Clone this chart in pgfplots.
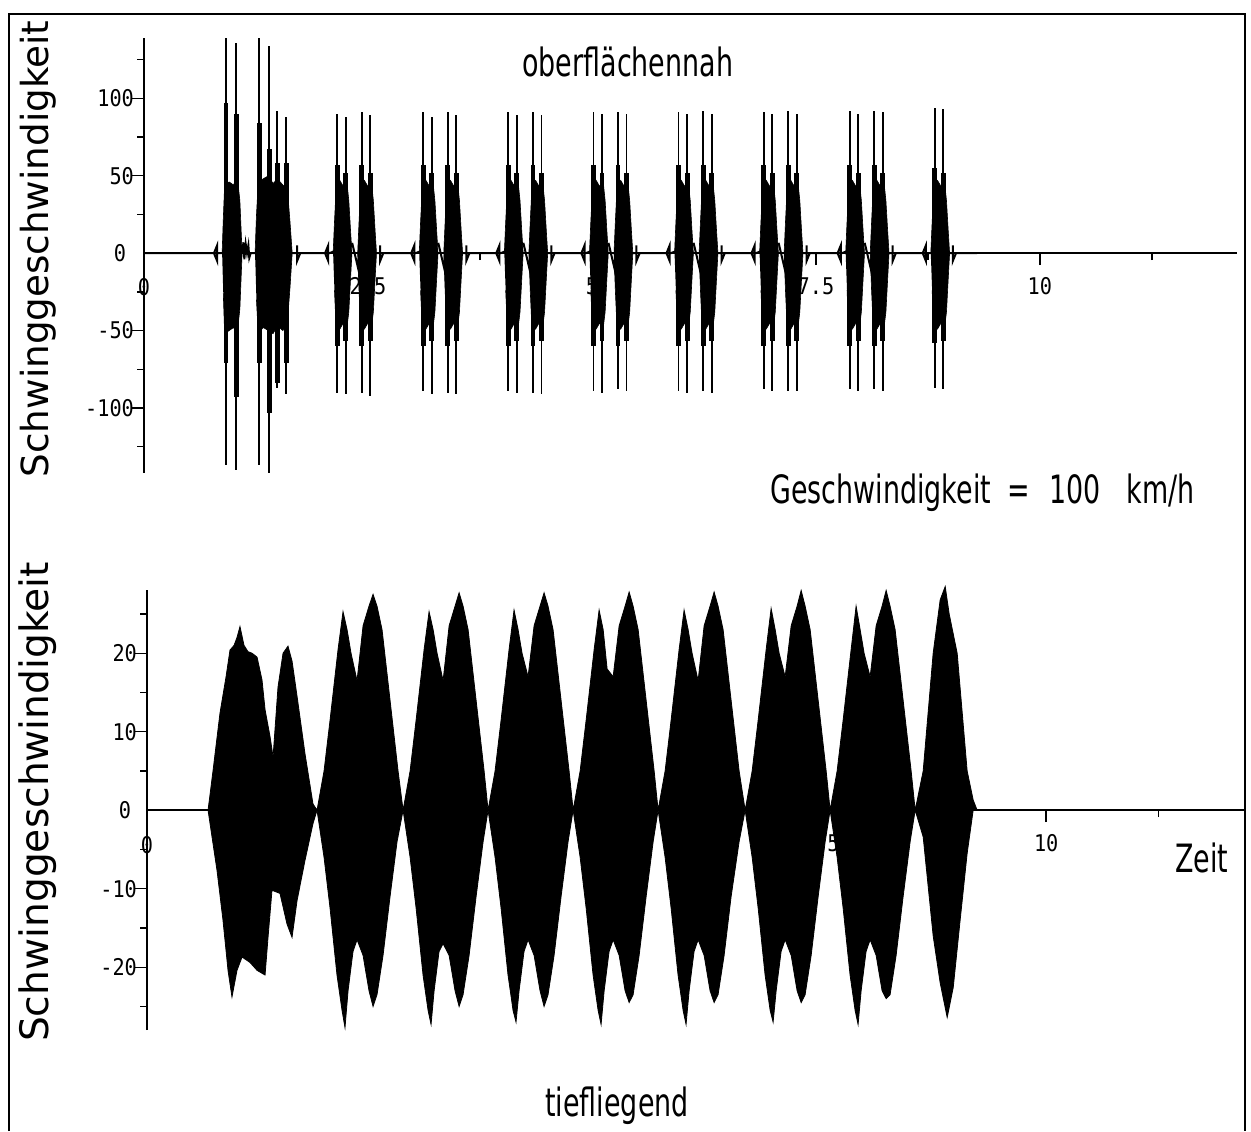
\documentclass[border=0pt]{standalone}
\usepackage{fontspec}
\setmainfont{DejaVu Sans}
\newfontfamily\plotfont[FakeStretch=0.69]{DejaVu Sans}
\newfontfamily\tickfont[FakeStretch=0.88]{DejaVu Sans Mono}
\usepackage{pgfplots}
\pgfplotsset{compat=1.18}
\newcommand\tickfs{\tickfont\fontsize{11.5}{13}\selectfont}
\pgfplotsset{mystyle/.style={scale only axis, axis lines=middle, axis line style={-, line width=0.9pt},
  tick align=outside, major tick length=6pt, minor tick length=3.5pt,
  every tick/.style={line width=0.7pt, black},
  xmin=0, xmax=12.2, xtick={0,2.5,5,7.5,10}, xticklabels={0,2.5,5,7.5,10},
  minor xtick={1.25,3.75,6.25,8.75,11.25},
  ticklabel style={font=\tickfs},
  xticklabel style={yshift=-2.5pt}, yticklabel style={xshift=4.5pt},
  clip=false}}
\begin{document}
\begin{tikzpicture}
\useasboundingbox (0,0) rectangle (625.5pt,565.5pt);
\draw[line width=0.8pt] (4.5pt,0) -- (4.5pt,558.5pt) -- (622.5pt,558.5pt) -- (622.5pt,0);

% ---------------- top panel ----------------
\begin{axis}[mystyle, at={(72pt,329pt)}, anchor=south west, width=546.5pt, height=217.5pt,
  ymin=-142, ymax=139, ytick={-100,-50,0,50,100}, yticklabels={-100,-50,0,50,100},
  minor ytick={-125,-75,-25,25,75,125}]
% baseline with small blips
\addplot[black, line width=1pt] coordinates {
(0,0) (0.781,0) (0.816,5) (0.816,-5) (0.781,0) (0.83,0)
(1.095,0)(1.11,7)(1.12,-4)(1.135,6)(1.15,0)(1.165,5)(1.175,-3)(1.19,0)
(1.709,0)(1.709,5)(1.709,-5)(1.744,0)
(2.021,0)(2.056,5)(2.056,-5)(2.021,0)(2.07,0)(2.326,6)(2.391,-10)(2.40,0)(2.636,0)(2.636,5)(2.636,-5)(2.671,0)
(2.982,0)(3.017,5)(3.017,-5)(2.982,0)(3.031,0)(3.287,6)(3.352,-10)(3.361,0)(3.597,0)(3.597,5)(3.597,-5)(3.632,0)
(3.932,0)(3.967,5)(3.967,-5)(3.932,0)(3.981,0)(4.237,6)(4.302,-10)(4.311,0)(4.547,0)(4.547,5)(4.547,-5)(4.582,0)
(4.882,0)(4.917,5)(4.917,-5)(4.882,0)(4.931,0)(5.187,6)(5.252,-10)(5.261,0)(5.497,0)(5.497,5)(5.497,-5)(5.532,0)
(5.832,0)(5.867,5)(5.867,-5)(5.832,0)(5.881,0)(6.137,6)(6.202,-10)(6.211,0)(6.447,0)(6.447,5)(6.447,-5)(6.482,0)
(6.781,0)(6.816,5)(6.816,-5)(6.781,0)(6.830,0)(7.086,6)(7.151,-10)(7.160,0)(7.396,0)(7.396,5)(7.396,-5)(7.431,0)
(7.742,0)(7.777,5)(7.777,-5)(7.742,0)(7.791,0)(8.047,6)(8.112,-10)(8.121,0)(8.357,0)(8.357,5)(8.357,-5)(8.392,0)
(8.692,0)(8.727,5)(8.727,-5)(8.692,0)(8.741,0)(9.028,0)(9.028,5)(9.028,-5)(9.063,0)(9.3,0)};
% burst cores
\addplot[fill=black, draw=black, line width=0.3pt] coordinates {
(0.872,0)(0.885,22)(0.90,44)(0.95,46)(1.00,44)(1.04,50)(1.07,34)(1.095,0)(1.07,-36)(1.04,-52)(1.00,-48)(0.95,-50)(0.90,-52)(0.885,-26)};
\addplot[fill=black, draw=black, line width=0.3pt] coordinates {
(1.240,0)(1.255,24)(1.275,46)(1.33,48)(1.39,50)(1.44,45)(1.49,48)(1.55,44)(1.60,42)(1.63,20)(1.654,0)
(1.63,-22)(1.60,-45)(1.55,-50)(1.49,-47)(1.44,-52)(1.39,-50)(1.33,-48)(1.275,-52)(1.255,-30)};
\addplot[fill=black, draw=black, line width=0.3pt] coordinates {
(2.111,0)(2.126,20)(2.146,44)(2.186,47)(2.226,43)(2.261,48)(2.286,34)(2.306,14)(2.321,0)
(2.385,0)(2.400,20)(2.420,44)(2.460,47)(2.500,43)(2.535,48)(2.560,34)(2.580,14)(2.595,0)
(2.580,-16)(2.560,-38)(2.535,-50)(2.500,-45)(2.460,-49)(2.420,-50)(2.400,-24)(2.385,0)
(2.321,0)(2.306,-16)(2.286,-38)(2.261,-50)(2.226,-45)(2.186,-49)(2.146,-50)(2.126,-24)};
\addplot[fill=black, draw=black, line width=0.3pt] coordinates {
(3.072,0)(3.087,20)(3.107,44)(3.147,47)(3.187,43)(3.222,48)(3.247,34)(3.267,14)(3.282,0)
(3.346,0)(3.361,20)(3.381,44)(3.421,47)(3.461,43)(3.496,48)(3.521,34)(3.541,14)(3.556,0)
(3.541,-16)(3.521,-38)(3.496,-50)(3.461,-45)(3.421,-49)(3.381,-50)(3.361,-24)(3.346,0)
(3.282,0)(3.267,-16)(3.247,-38)(3.222,-50)(3.187,-45)(3.147,-49)(3.107,-50)(3.087,-24)};
\addplot[fill=black, draw=black, line width=0.3pt] coordinates {
(4.022,0)(4.037,20)(4.057,44)(4.097,47)(4.137,43)(4.172,48)(4.197,34)(4.217,14)(4.232,0)
(4.296,0)(4.311,20)(4.331,44)(4.371,47)(4.411,43)(4.446,48)(4.471,34)(4.491,14)(4.506,0)
(4.491,-16)(4.471,-38)(4.446,-50)(4.411,-45)(4.371,-49)(4.331,-50)(4.311,-24)(4.296,0)
(4.232,0)(4.217,-16)(4.197,-38)(4.172,-50)(4.137,-45)(4.097,-49)(4.057,-50)(4.037,-24)};
\addplot[fill=black, draw=black, line width=0.3pt] coordinates {
(4.972,0)(4.987,20)(5.007,44)(5.047,47)(5.087,43)(5.122,48)(5.147,34)(5.167,14)(5.182,0)
(5.246,0)(5.261,20)(5.281,44)(5.321,47)(5.361,43)(5.396,48)(5.421,34)(5.441,14)(5.456,0)
(5.441,-16)(5.421,-38)(5.396,-50)(5.361,-45)(5.321,-49)(5.281,-50)(5.261,-24)(5.246,0)
(5.182,0)(5.167,-16)(5.147,-38)(5.122,-50)(5.087,-45)(5.047,-49)(5.007,-50)(4.987,-24)};
\addplot[fill=black, draw=black, line width=0.3pt] coordinates {
(5.922,0)(5.937,20)(5.957,44)(5.997,47)(6.037,43)(6.072,48)(6.097,34)(6.117,14)(6.132,0)
(6.196,0)(6.211,20)(6.231,44)(6.271,47)(6.311,43)(6.346,48)(6.371,34)(6.391,14)(6.406,0)
(6.391,-16)(6.371,-38)(6.346,-50)(6.311,-45)(6.271,-49)(6.231,-50)(6.211,-24)(6.196,0)
(6.132,0)(6.117,-16)(6.097,-38)(6.072,-50)(6.037,-45)(5.997,-49)(5.957,-50)(5.937,-24)};
\addplot[fill=black, draw=black, line width=0.3pt] coordinates {
(6.871,0)(6.886,20)(6.906,44)(6.946,47)(6.986,43)(7.021,48)(7.046,34)(7.066,14)(7.081,0)
(7.145,0)(7.160,20)(7.180,44)(7.220,47)(7.260,43)(7.295,48)(7.320,34)(7.340,14)(7.355,0)
(7.340,-16)(7.320,-38)(7.295,-50)(7.260,-45)(7.220,-49)(7.180,-50)(7.160,-24)(7.145,0)
(7.081,0)(7.066,-16)(7.046,-38)(7.021,-50)(6.986,-45)(6.946,-49)(6.906,-50)(6.886,-24)};
\addplot[fill=black, draw=black, line width=0.3pt] coordinates {
(7.832,0)(7.847,20)(7.867,44)(7.907,47)(7.947,43)(7.982,48)(8.007,34)(8.027,14)(8.042,0)
(8.106,0)(8.121,20)(8.141,44)(8.181,47)(8.221,43)(8.256,48)(8.281,34)(8.301,14)(8.316,0)
(8.301,-16)(8.281,-38)(8.256,-50)(8.221,-45)(8.181,-49)(8.141,-50)(8.121,-24)(8.106,0)
(8.042,0)(8.027,-16)(8.007,-38)(7.982,-50)(7.947,-45)(7.907,-49)(7.867,-50)(7.847,-24)};
\addplot[fill=black, draw=black, line width=0.3pt] coordinates {
(8.782,0)(8.797,20)(8.817,44)(8.857,47)(8.897,43)(8.932,48)(8.957,34)(8.977,14)(8.992,0)
(8.977,-16)(8.957,-38)(8.932,-50)(8.897,-45)(8.857,-49)(8.817,-50)(8.797,-24)};
% thick parts of the spikes
\addplot[ycomb, black, line width=2.4pt] coordinates {
(0.916,97)(0.916,-71)(1.028,90)(1.028,-93)(1.285,84)(1.285,-71)(1.397,67)(1.397,-103)(1.486,58)(1.486,-84)(1.587,58)(1.587,-71)
(2.156,57)(2.156,-60)(2.251,52)(2.251,-57)(2.430,57)(2.430,-60)(2.525,52)(2.525,-57)
(3.117,57)(3.117,-60)(3.212,52)(3.212,-57)(3.391,57)(3.391,-60)(3.486,52)(3.486,-57)
(4.067,57)(4.067,-60)(4.162,52)(4.162,-57)(4.341,57)(4.341,-60)(4.436,52)(4.436,-57)
(5.017,57)(5.017,-60)(5.112,52)(5.112,-57)(5.291,57)(5.291,-60)(5.386,52)(5.386,-57)
(5.967,57)(5.967,-60)(6.062,52)(6.062,-57)(6.241,57)(6.241,-60)(6.336,52)(6.336,-57)
(6.916,57)(6.916,-60)(7.011,52)(7.011,-57)(7.190,57)(7.190,-60)(7.285,52)(7.285,-57)
(7.877,57)(7.877,-60)(7.972,52)(7.972,-57)(8.151,57)(8.151,-60)(8.246,52)(8.246,-57)
(8.827,55)(8.827,-58)(8.922,52)(8.922,-57)};
% thin tall spikes
\addplot[ycomb, black, line width=0.9pt] coordinates {
(0.916,139)(0.916,-137)(1.028,136)(1.028,-140)(1.285,139)(1.285,-137)(1.397,134)(1.397,-142)(1.486,92)(1.486,-87)(1.587,88)(1.587,-91)
(2.156,90)(2.156,-90)(2.251,88)(2.251,-91)(2.430,91)(2.430,-90)(2.525,89)(2.525,-92)
(3.117,91)(3.117,-89)(3.212,88)(3.212,-91)(3.391,91)(3.391,-90)(3.486,89)(3.486,-91)
(4.067,91)(4.067,-89)(4.162,89)(4.162,-90)(4.341,91)(4.341,-90)(4.436,89)(4.436,-91)
(5.017,91)(5.017,-89)(5.112,90)(5.112,-90)(5.291,91)(5.291,-88)(5.386,90)(5.386,-89)
(5.967,91)(5.967,-89)(6.062,90)(6.062,-90)(6.241,92)(6.241,-89)(6.336,90)(6.336,-90)
(6.916,91)(6.916,-88)(7.011,90)(7.011,-89)(7.190,92)(7.190,-89)(7.285,90)(7.285,-89)
(7.877,92)(7.877,-88)(7.972,90)(7.972,-89)(8.151,92)(8.151,-88)(8.246,91)(8.246,-89)
(8.827,94)(8.827,-87)(8.922,93)(8.922,-88)};
\node[font=\tickfs, yshift=-17pt] at (axis cs:0,0) {0};
\node[font=\tickfs, xshift=-12pt] at (axis cs:0,0) {0};
\end{axis}

% ---------------- bottom panel ----------------
\begin{axis}[mystyle, at={(73.5pt,50.5pt)}, anchor=south west, width=548.5pt, height=219.8pt,
  ymin=-28, ymax=28, ytick={-20,-10,0,10,20}, yticklabels={-20,-10,0,10,20},
  minor ytick={-25,-15,-5,5,15,25}]
\addplot[fill=black, draw=black, line width=0.4pt] coordinates {
(0.679,0)(0.734,5)(0.812,12.4)(0.879,17)(0.923,20.4)(0.968,21)(1.001,22)(1.034,23.4)(1.079,21)(1.123,20.2)(1.168,20)(1.224,19.5)(1.279,16.6)(1.313,12.8)(1.368,9.4)(1.402,6.8)(1.457,15.7)(1.513,20)(1.568,20.9)(1.613,19)(1.669,14.5)(1.757,7.2)(1.846,0.8)
(1.891,0)(1.969,5)(2.036,11.5)(2.125,20.5)(2.180,25.3)(2.225,23)(2.269,20)(2.336,16.5)(2.403,23.5)(2.469,26)(2.514,27.5)(2.558,26)(2.614,23)(2.703,14)(2.792,5)
(2.848,0)(2.926,5)(2.993,11.5)(3.082,20.5)(3.137,25.3)(3.182,23)(3.226,20)(3.293,16.5)(3.360,23.5)(3.426,26)(3.471,27.7)(3.515,26)(3.571,23)(3.660,14)(3.749,5)
(3.793,0)(3.871,5)(3.938,11.5)(4.027,20.5)(4.082,25.5)(4.127,23)(4.171,20)(4.238,17)(4.305,23.5)(4.371,26)(4.416,27.7)(4.460,26)(4.516,23)(4.605,14)(4.694,5)
(4.739,0)(4.817,5)(4.884,11.5)(4.973,20.5)(5.028,25.5)(5.073,23)(5.117,18)(5.184,17)(5.251,23.5)(5.317,26)(5.362,27.8)(5.406,26)(5.462,23)(5.551,14)(5.640,5)
(5.684,0)(5.762,5)(5.829,11.5)(5.918,20.5)(5.973,25.5)(6.018,23)(6.062,20)(6.129,16.5)(6.196,23.5)(6.262,26)(6.307,27.8)(6.351,26)(6.407,23)(6.496,14)(6.585,5)
(6.652,0)(6.730,5)(6.797,11.5)(6.886,20.5)(6.941,25.7)(6.986,23)(7.030,20)(7.097,17)(7.164,23.5)(7.230,26)(7.275,28)(7.319,26)(7.375,23)(7.464,14)(7.553,5)
(7.597,0)(7.675,5)(7.742,11.5)(7.831,20.5)(7.886,26)(7.931,23)(7.975,20)(8.042,17)(8.109,23.5)(8.175,26)(8.220,28)(8.264,26)(8.320,23)(8.409,14)(8.498,5)
(8.543,0)(8.632,5)(8.743,20)(8.821,26.8)(8.877,28.5)(8.921,25)(9.010,20)(9.121,5)(9.188,1.3)(9.232,0)};
\addplot[fill=black, draw=black, line width=0.4pt] coordinates {
(0.679,0)(0.779,-7.7)(0.845,-14)(0.901,-20.4)(0.945,-23.8)(1.001,-20.4)(1.057,-18.7)(1.146,-19.4)(1.224,-20.4)(1.313,-21)(1.346,-16.2)(1.390,-10.2)(1.479,-10.6)(1.557,-14.5)(1.613,-16.2)(1.669,-11.5)(1.757,-6.4)(1.846,-1.7)
(1.891,0)(1.969,-6)(2.036,-12.5)(2.113,-21)(2.169,-25.5)(2.202,-27.7)(2.236,-23)(2.291,-18)(2.336,-16.5)(2.403,-18.5)(2.469,-23)(2.514,-25)(2.558,-23.5)(2.625,-18.5)(2.703,-11)(2.781,-4)
(2.848,0)(2.926,-6)(2.993,-12.5)(3.070,-21)(3.126,-25.5)(3.159,-27.3)(3.193,-23)(3.248,-18)(3.293,-17)(3.360,-18.5)(3.426,-23)(3.471,-25)(3.515,-23.5)(3.582,-18.5)(3.660,-11)(3.738,-4)
(3.793,0)(3.871,-6)(3.938,-12.5)(4.015,-21)(4.071,-25.5)(4.104,-27)(4.138,-23)(4.193,-18)(4.238,-16.5)(4.305,-18.5)(4.371,-23)(4.416,-25)(4.460,-23.5)(4.527,-18.5)(4.605,-11)(4.683,-4)
(4.739,0)(4.817,-6)(4.884,-12.5)(4.961,-21)(5.017,-25.5)(5.050,-27.3)(5.084,-23)(5.139,-18)(5.184,-16.5)(5.251,-18.5)(5.317,-23)(5.362,-24.5)(5.406,-23.5)(5.473,-18.5)(5.551,-11)(5.629,-4)
(5.684,0)(5.762,-6)(5.829,-12.5)(5.906,-21)(5.962,-25.5)(5.995,-27.3)(6.029,-23)(6.084,-18)(6.129,-16.5)(6.196,-18.5)(6.262,-23)(6.307,-24.5)(6.351,-23.5)(6.418,-18.5)(6.496,-11)(6.585,-4)
(6.652,0)(6.730,-6)(6.797,-12.5)(6.874,-21)(6.930,-25.5)(6.963,-27)(6.997,-23)(7.052,-18)(7.097,-16.5)(7.164,-18.5)(7.230,-23)(7.275,-24.5)(7.319,-23.5)(7.386,-18.5)(7.464,-11)(7.542,-4)
(7.597,0)(7.675,-6)(7.742,-12.5)(7.819,-21)(7.875,-25.5)(7.908,-27.3)(7.942,-23)(7.997,-18)(8.042,-16.5)(8.109,-18.5)(8.175,-23)(8.220,-24)(8.264,-23.5)(8.331,-18.5)(8.409,-11)(8.487,-4)
(8.543,0)(8.632,-3.4)(8.743,-16)(8.821,-22)(8.899,-26.4)(8.966,-22.6)(9.043,-14)(9.121,-5.5)(9.188,0)};
\node[font=\tickfs, yshift=-17.5pt] at (axis cs:0,0) {0};
\node[font=\tickfs, xshift=-11pt] at (axis cs:0,0) {0};
\end{axis}

% ---------------- texts ----------------
\node[rotate=90, inner sep=0, font=\fontsize{18.65}{20}\selectfont] at (19pt,441pt) {Schwinggeschwindigkeit};
\node[rotate=90, inner sep=0, font=\fontsize{19.6}{21}\selectfont] at (19pt,164.5pt) {Schwinggeschwindigkeit};
\node[anchor=west, inner sep=0, font=\plotfont\fontsize{19.5}{22}\selectfont] at (261pt,534.5pt) {oberflächennah};
\node[anchor=west, inner sep=0, font=\plotfont\fontsize{19.5}{22}\selectfont] at (385pt,319pt) {Geschwindigkeit\hspace{8pt}=\hspace{10pt}100\hspace{13pt}km/h};
\node[anchor=west, inner sep=0, font=\plotfont\fontsize{19.5}{22}\selectfont] at (272.5pt,12.5pt) {tiefliegend};
\node[anchor=west, inner sep=0, font=\plotfont\fontsize{19.5}{22}\selectfont] at (587.5pt,136.5pt) {Zeit};
\end{tikzpicture}
\end{document}
